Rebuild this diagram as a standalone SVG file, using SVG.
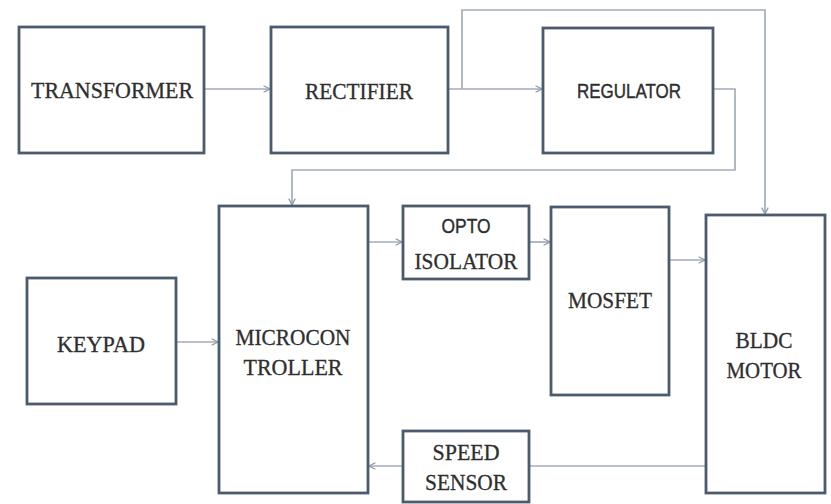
<svg xmlns="http://www.w3.org/2000/svg" width="831" height="504" viewBox="0 0 831 504">
<defs>
<style>
.box{fill:#ffffff;stroke:#4b5a6c;stroke-width:2.8}
.serif{font-family:"Liberation Serif","Times New Roman",serif;font-size:23px;fill:#2e2e2e;stroke:#2e2e2e;stroke-width:0.3;text-anchor:middle}
.sans{font-family:"Liberation Sans",Arial,sans-serif;font-size:20px;fill:#2e2e2e;stroke:#2e2e2e;stroke-width:0.4;text-anchor:middle}
.wire{fill:none;stroke:#a3adb9;stroke-width:1.7}
</style>
<marker id="arr" viewBox="0 0 10 10" refX="9" refY="5" markerWidth="8" markerHeight="8" markerUnits="userSpaceOnUse" orient="auto">
<polyline points="1,1 9,5 1,9" fill="none" stroke="#8f9aa8" stroke-width="1.6"/>
</marker>
</defs>
<rect width="831" height="504" fill="#ffffff"/>
<g id="connectors">
<line class="wire" x1="204" y1="89" x2="270" y2="89" marker-end="url(#arr)"/>
<line class="wire" x1="448" y1="89" x2="542" y2="89" marker-end="url(#arr)"/>
<polyline class="wire" points="462,89 462,10 765,10 765,214" marker-end="url(#arr)"/>
<polyline class="wire" points="713,89 735,89 735,170 292,170 292,205" marker-end="url(#arr)"/>
<line class="wire" x1="176" y1="342" x2="218" y2="342" marker-end="url(#arr)"/>
<line class="wire" x1="368" y1="242" x2="402" y2="242" marker-end="url(#arr)"/>
<line class="wire" x1="529" y1="242" x2="550" y2="242" marker-end="url(#arr)"/>
<line class="wire" x1="669" y1="260" x2="705" y2="260" marker-end="url(#arr)"/>
<line class="wire" x1="706" y1="466" x2="529" y2="466"/>
<line class="wire" x1="403" y1="466" x2="369" y2="466" marker-end="url(#arr)"/>
</g>
<g id="transformer">
<rect class="box" x="19" y="27" width="185" height="126"/>
<text class="serif" x="112" y="98" textLength="162" lengthAdjust="spacingAndGlyphs">TRANSFORMER</text>
</g>
<g id="rectifier">
<rect class="box" x="271" y="27" width="177" height="126"/>
<text class="serif" x="359" y="99" textLength="108" lengthAdjust="spacingAndGlyphs">RECTIFIER</text>
</g>
<g id="regulator">
<rect class="box" x="543" y="28" width="170" height="125"/>
<text class="sans" x="629" y="98" font-size="21" textLength="104" lengthAdjust="spacingAndGlyphs">REGULATOR</text>
</g>
<g id="keypad">
<rect class="box" x="27" y="278" width="149" height="126"/>
<text class="serif" x="101" y="352" textLength="88" lengthAdjust="spacingAndGlyphs">KEYPAD</text>
</g>
<g id="microcontroller">
<rect class="box" x="219" y="206" width="149" height="287"/>
<text class="serif" x="293" y="345" textLength="115" lengthAdjust="spacingAndGlyphs">MICROCON</text>
<text class="serif" x="293" y="375" textLength="99" lengthAdjust="spacingAndGlyphs">TROLLER</text>
</g>
<g id="opto-isolator">
<rect class="box" x="403" y="206" width="126" height="73"/>
<text class="sans" x="466" y="233" font-size="19" textLength="49" lengthAdjust="spacingAndGlyphs">OPTO</text>
<text class="serif" x="466" y="269" textLength="103" lengthAdjust="spacingAndGlyphs">ISOLATOR</text>
</g>
<g id="mosfet">
<rect class="box" x="551" y="207" width="118" height="188"/>
<text class="serif" x="610" y="308" textLength="84" lengthAdjust="spacingAndGlyphs">MOSFET</text>
</g>
<g id="bldc-motor">
<rect class="box" x="706" y="215" width="119" height="278"/>
<text class="serif" x="764" y="348" textLength="57" lengthAdjust="spacingAndGlyphs">BLDC</text>
<text class="serif" x="764" y="378" textLength="75" lengthAdjust="spacingAndGlyphs">MOTOR</text>
</g>
<g id="speed-sensor">
<rect class="box" x="403" y="431" width="126" height="71"/>
<text class="serif" x="466" y="460" textLength="67" lengthAdjust="spacingAndGlyphs">SPEED</text>
<text class="serif" x="466" y="490" textLength="82" lengthAdjust="spacingAndGlyphs">SENSOR</text>
</g>
</svg>
